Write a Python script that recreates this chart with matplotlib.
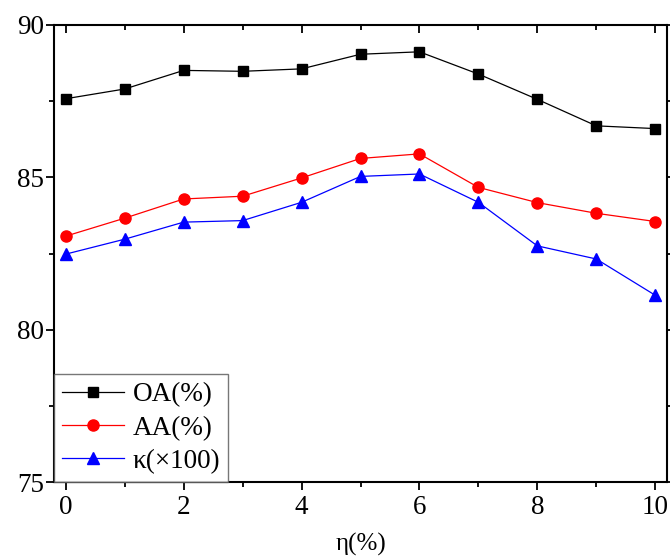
import matplotlib
matplotlib.use("Agg")
import matplotlib.pyplot as plt
from matplotlib.ticker import MultipleLocator

# values
eta = [0, 1, 2, 3, 4, 5, 6, 7, 8, 9, 10]
oa = [87.58, 87.90, 88.51, 88.48, 88.56, 89.04, 89.12, 88.39, 87.56, 86.69, 86.60]
aa = [83.07, 83.66, 84.29, 84.38, 84.98, 85.62, 85.77, 84.67, 84.17, 83.82, 83.55]
kappa = [82.48, 82.97, 83.53, 83.58, 84.18, 85.03, 85.11, 84.18, 82.75, 82.32, 81.13]

plt.rcParams['font.family'] = ['Liberation Serif', 'DejaVu Serif']

fig = plt.figure(figsize=(6.7, 5.56), dpi=100)
ax = fig.add_axes([54 / 670, 1 - 482 / 556, 613 / 670, 457 / 556])

ax.plot(eta, oa, color='black', lw=0.9, marker='s', ms=7, label='OA(%)')
ax.plot(eta, aa, color='red', lw=0.9, marker='o', ms=8, label='AA(%)')
ax.plot(eta, kappa, color='blue', lw=0.9, marker='^', ms=8.5, label='κ(×100)')

ax.set_xlim(-0.2, 10.2)
ax.set_ylim(75, 90)
ax.xaxis.set_major_locator(MultipleLocator(2))
ax.xaxis.set_minor_locator(MultipleLocator(1))
ax.yaxis.set_major_locator(MultipleLocator(5))
ax.yaxis.set_minor_locator(MultipleLocator(2.5))

for s in ax.spines.values():
    s.set_linewidth(1.5)

ax.tick_params(which='both', top=True, right=True, labelsize=19.5, width=1.3)
ax.tick_params(which='major', length=6)
ax.tick_params(which='minor', length=3.5)
ax.tick_params(axis='x', which='both', direction='out', pad=3)
ax.tick_params(axis='y', which='both', direction='out', pad=1)
# top and right ticks point inwards
for t in ax.xaxis.get_major_ticks() + ax.xaxis.get_minor_ticks():
    t.tick2line.set_marker(3)
for t in ax.yaxis.get_major_ticks() + ax.yaxis.get_minor_ticks():
    t.tick2line.set_marker(1)

ax.set_xlabel('η(%)', fontsize=18, labelpad=9.5)

leg = ax.legend(loc='lower left', fontsize=19.5, frameon=True, fancybox=False,
                edgecolor='#555555', borderaxespad=0, handlelength=2.3,
                labelspacing=0.3, borderpad=0.3, handletextpad=0.3)
leg.get_frame().set_linewidth(1.0)

fig.savefig('out.png', dpi=100)
